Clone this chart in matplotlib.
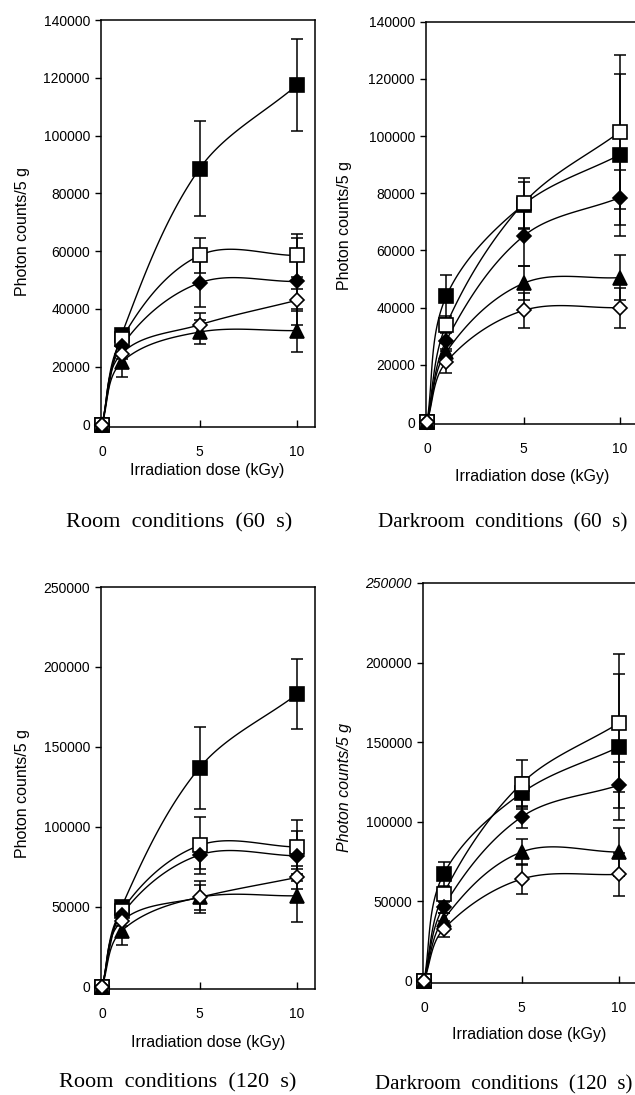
import numpy as np
import matplotlib
matplotlib.use("Agg")
import matplotlib.pyplot as plt

# ---------------- data ----------------
dose = [0, 1, 5, 10]

# Room conditions (60 s)
r60_sqf = [0, 31000, 88500, 117500]
r60_sqf_err = [0, 2000, 16500, 16000]
r60_sqo = [0, 29500, 58500, 58500]
r60_sqo_err = [0, 2000, 6000, 7500]
r60_dif = [0, 27000, 49000, 49500]
r60_dif_err = [0, 2500, 8500, 15000]
r60_tri = [0, 21500, 32000, 32500]
r60_tri_err = [0, 5000, 4000, 7500]
r60_dio = [0, 24500, 34500, 43000]
r60_dio_err = [0, 2000, 4000, 3800]

# Darkroom conditions (60 s)
d60_sqf = [0, 44000, 76000, 93500]
d60_sqf_err = [0, 7500, 8000, 28300]
d60_sqo = [0, 34000, 76500, 101500]
d60_sqo_err = [0, 3000, 9000, 27000]
d60_dif = [0, 28500, 65000, 78500]
d60_dif_err = [0, 3000, 10500, 9500]
d60_tri = [0, 24500, 48500, 50500]
d60_tri_err = [0, 3000, 6000, 8000]
d60_dio = [0, 21000, 39000, 40000]
d60_dio_err = [0, 4000, 6000, 7000]

# Room conditions (120 s)
r120_sqf = [0, 50000, 137000, 183000]
r120_sqf_err = [0, 3000, 25500, 22000]
r120_sqo = [0, 47500, 88500, 87500]
r120_sqo_err = [0, 3000, 18000, 17000]
r120_dif = [0, 45000, 82500, 82000]
r120_dif_err = [0, 3000, 9000, 15500]
r120_tri = [0, 35000, 56000, 57000]
r120_tri_err = [0, 9000, 10000, 16500]
r120_dio = [0, 41000, 56000, 68500]
r120_dio_err = [0, 3000, 8000, 7000]

# Darkroom conditions (120 s)
d120_sqf = [0, 67000, 118000, 147000]
d120_sqf_err = [0, 8000, 10000, 46000]
d120_sqo = [0, 54500, 124000, 162000]
d120_sqo_err = [0, 5000, 15000, 43500]
d120_dif = [0, 46500, 103000, 123000]
d120_dif_err = [0, 4000, 7000, 14500]
d120_tri = [0, 38500, 81000, 81000]
d120_tri_err = [0, 4000, 8000, 15000]
d120_dio = [0, 32500, 64000, 67000]
d120_dio_err = [0, 5000, 9500, 13500]

top_yticks = [0, 20000, 40000, 60000, 80000, 100000, 120000, 140000]
bot_yticks = [0, 50000, 100000, 150000, 200000, 250000]
xticks = [0, 5, 10]

captions = ["Room  conditions  (60  s)", "Darkroom  conditions  (60  s)",
            "Room  conditions  (120  s)", "Darkroom  conditions  (120  s)"]
ylabel = "Photon counts/5 g"
xlabel = "Irradiation dose (kGy)"

# ---------------- figure ----------------
W, H = 635, 1095
fig = plt.figure(figsize=(W / 100, H / 100), dpi=100)
plt.rcParams['font.family'] = ['Liberation Sans', 'DejaVu Sans']


def fx(px):
    return px / W


def fy(py):
    return 1 - py / H


def make_ax(left, x10, top, zero, ymax, xmax=10.9, xmin=-0.05):
    upx = (x10 - left) / 10.0
    left_px = left + xmin * upx
    right_px = left + xmax * upx
    ymin = -0.006 * ymax
    hpu = (zero - top) / ymax
    bottom_px = zero - ymin * hpu
    ax = fig.add_axes([fx(left_px), fy(bottom_px), fx(right_px - left_px),
                       (bottom_px - top) / H])
    ax.set_xlim(xmin, xmax)
    ax.set_ylim(ymin, ymax)
    ax._sx = upx
    ax._sy = hpu
    return ax


def smooth(ax, x, y, n=40):
    """Smoothed connecting line (cardinal-style Bezier in screen space)."""
    sx, sy = ax._sx, ax._sy
    P = np.column_stack([np.asarray(x, float) * sx, np.asarray(y, float) * sy])
    m = len(P)
    tang = []
    for i in range(m):
        a = P[max(i - 1, 0)]
        b = P[min(i + 1, m - 1)]
        d = b - a
        tang.append(d / (np.hypot(*d) + 1e-12))
    out = []
    t = np.linspace(0, 1, n)[:, None]
    for i in range(m - 1):
        p1, p2 = P[i], P[i + 1]
        L = np.hypot(*(p2 - p1)) / 3.0
        c1 = p1 + tang[i] * L
        c2 = p2 - tang[i + 1] * L
        seg = ((1 - t) ** 3) * p1 + 3 * ((1 - t) ** 2) * t * c1 + 3 * (1 - t) * t ** 2 * c2 + t ** 3 * p2
        out.append(seg if i == 0 else seg[1:])
    c = np.vstack(out)
    return c[:, 0] / sx, c[:, 1] / sy


styles = [
    dict(marker='s', ms=10, mfc='black'),
    dict(marker='s', ms=9.5, mfc='white'),
    dict(marker='D', ms=7.3, mfc='black'),
    dict(marker='^', ms=9.5, mfc='black'),
    dict(marker='D', ms=7.3, mfc='white'),
]


def draw_panel(ax, series, yticks, italic_first=False):
    for (vals, errs), st in zip(series, styles):
        cx, cy = smooth(ax, dose, vals)
        ax.plot(cx, cy, color='black', lw=1.0, zorder=2, clip_on=False)
        ax.errorbar(dose, vals, yerr=errs, fmt='none', ecolor='black',
                    elinewidth=1.1, capsize=4.3, capthick=1.1, zorder=3,
                    clip_on=False)
        ax.plot(dose, vals, linestyle='none', marker=st['marker'], ms=st['ms'],
                mfc=st['mfc'], mec='black', mew=1.2, zorder=4, clip_on=False)
    ax.set_xticks(xticks)
    ax.set_yticks(yticks)
    ax.set_yticklabels([str(v) for v in yticks])
    ax.tick_params(axis='x', direction='in', length=5, width=1.0, pad=13,
                   labelsize=10)
    ax.tick_params(axis='y', direction='out', length=4, width=1.0, pad=4,
                   labelsize=10)
    for s in ax.spines.values():
        s.set_linewidth(1.1)
    if italic_first:
        ax.get_yticklabels()[-1].set_style('italic')


ax1 = make_ax(102, 297, 20, 424.5, 140000)
draw_panel(ax1, [(r60_sqf, r60_sqf_err), (r60_sqo, r60_sqo_err),
                 (r60_dif, r60_dif_err), (r60_tri, r60_tri_err),
                 (r60_dio, r60_dio_err)], top_yticks)

ax2 = make_ax(427, 620, 21.7, 422, 140000)
draw_panel(ax2, [(d60_sqf, d60_sqf_err), (d60_sqo, d60_sqo_err),
                 (d60_dif, d60_dif_err), (d60_tri, d60_tri_err),
                 (d60_dio, d60_dio_err)], top_yticks)

ax3 = make_ax(102, 297, 587, 987, 250000)
draw_panel(ax3, [(r120_sqf, r120_sqf_err), (r120_sqo, r120_sqo_err),
                 (r120_dif, r120_dif_err), (r120_tri, r120_tri_err),
                 (r120_dio, r120_dio_err)], bot_yticks)

ax4 = make_ax(424, 619, 583, 981, 250000)
draw_panel(ax4, [(d120_sqf, d120_sqf_err), (d120_sqo, d120_sqo_err),
                 (d120_dif, d120_dif_err), (d120_tri, d120_tri_err),
                 (d120_dio, d120_dio_err)], bot_yticks, italic_first=True)

# axis labels
fig.text(fx(23), fy(231), ylabel, rotation=90, ha='center', va='center', fontsize=11.5)
fig.text(fx(345), fy(226), ylabel, rotation=90, ha='center', va='center', fontsize=11.5)
fig.text(fx(23), fy(793), ylabel, rotation=90, ha='center', va='center', fontsize=11.5)
fig.text(fx(345), fy(787), ylabel, rotation=90, ha='center', va='center', fontsize=11.5,
         style='italic')

fig.text(fx(207), fy(471), xlabel, ha='center', va='center', fontsize=11.5)
fig.text(fx(532), fy(477), xlabel, ha='center', va='center', fontsize=11.5)
fig.text(fx(208), fy(1042), xlabel, ha='center', va='center', fontsize=11.5)
fig.text(fx(529), fy(1035), xlabel, ha='center', va='center', fontsize=11.5)

# captions
cap_pos = [(179, 523, 16), (503, 523, 15.2), (178, 1083, 16), (504, 1085, 15.0)]
for (cx, cy, fs), txt in zip(cap_pos, captions):
    fig.text(fx(cx), fy(cy), txt, ha='center', va='center', fontsize=fs,
             family=['Liberation Serif', 'DejaVu Serif'])

fig.savefig("out.png", dpi=100)
